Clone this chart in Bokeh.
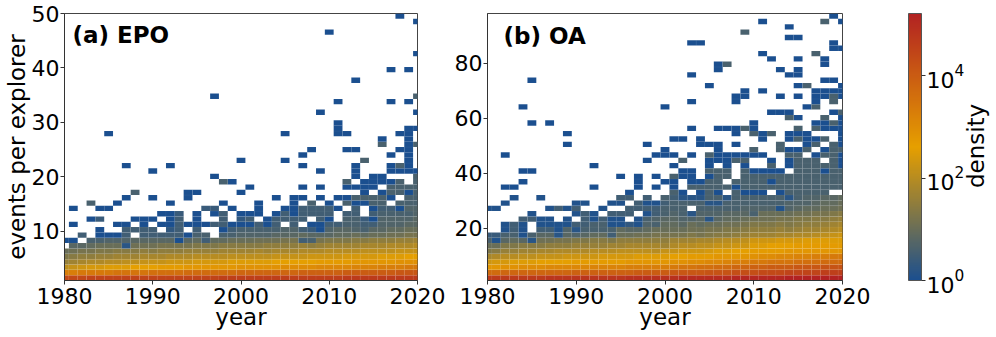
from bokeh.embed import file_html
from bokeh.resources import INLINE
from bokeh.layouts import row
from bokeh.models import (ColorBar, ColumnDataSource, FixedTicker, Label, LogColorMapper,
                          LogTickFormatter, Range1d)
from bokeh.plotting import figure
from bokeh.transform import transform

o = None
years = list(range(1980, 2021))
x_ticks = [1980, 1990, 2000, 2010, 2020]
epo_y_ticks = [10, 20, 30, 40, 50]
oa_y_ticks = [20, 40, 60, 80]
color_ticks = [1, 100, 10000]
ramp = ["#1b4f8f", "#e69f00", "#b22222"]
density_top = 10 ** 5.22
SLATE = 6   # tenths of log10(density) of the darker speckled cells

# Panel (a) EPO. Full rows: tenths of log10(density), one value per year, None = empty.
epo_full_r00 = [44,44,44,45,45,45,45,45,45,45, 45,45,45,45,45,45,45,45,46,46, 46,46,46,46,46,46,46,46,46,46, 46,46,47,47,47,47,47,47,47,47, 47]
epo_full_r01 = [33,33,34,34,34,34,35,35,35,35, 36,36,36,36,37,37,37,37,37,37, 38,38,38,38,38,38,38,39,39,39, 39,39,40,40,40,40,40,40,41,41, 41]
epo_full_r02 = [21,22,23,24,24,25,25,25,26,26, 26,27,27,27,28,28,28,28,28,28, 29,29,29,29,29,30,30,30,30,31, 31,31,31,32,32,32,33,33,33,34, 34]
epo_full_r03 = [16,17,18,19,19,20,20,21,21,22, 22,22,23,23,23,24,24,24,24,25, 25,25,25,25,26,26,26,26,26,27, 27,27,27,28,28,28,28,28,29,29, 29]
epo_full_r04 = [13,14,15,15,16,16,17,17,17,18, 18,18,19,19,19,20,20,20,20,21, 21,21,21,21,22,22,22,22,23,23, 23,23,24,24,24,24,25,25,25,26, 26]
epo_full_r05 = [10,11,12,12,13,13,14,14,14,15, 14,15,15,15,16,16,16,16,17,17, 17,17,18,17,18,18,18,19,19,19, 20,20,20,20,21,21,21,21,22,22, 22]
epo_full_r06 = [o,8,8,9,10,10,10,2,11,11, 11,12,12,12,12,13,13,13,14,14, 14,14,14,15,15,15,15,16,15,16, 17,17,17,17,18,18,18,19,19,19, 20]
epo_full_r07 = [0,0,o,6,6,7,7,7,8,8, 8,8,8,0,8,9,5,9,9,10, 10,10,11,11,11,12,12,5,6,12, 13,13,13,14,14,15,15,15,16,16, 17]
epo_full_r08 = [o,o,5,o,0,0,0,5,o,5, 5,5,5,5,0,6,6,o,6,6, 7,7,7,7,8,8,8,9,8,8, 8,9,9,10,9,10,10,11,11,12, 12]
epo_full_r09 = [o,o,o,o,0,o,o,5,5,5, 5,o,3,5,o,5,o,o,0,5, 6,6,6,6,6,7,7,5,4,0, 7,8,8,7,6,8,8,9,9,10, 10]
epo_full_r10 = [o,0,o,o,o,o,0,0,o,0, o,0,0,5,0,0,0,5,5,0, 0,0,5,0,5,o,5,o,0,0, 5,5,6,6,5,5,7,7,7,8, 8]
epo_full_r11 = [o,o,o,0,4,o,o,o,0,0, 0,o,0,5,o,0,o,o,5,o, 3,5,o,0,5,5,5,5,o,5, 0,o,6,6,4,0,7,7,7,7, 8]
epo_full_r12 = [o,o,o,o,o,o,o,o,o,o, o,0,0,4,o,0,o,0,5,o, 0,0,0,o,0,5,0,5,5,5, 5,o,5,5,o,5,6,6,6,6, 7]
epo_full_r13 = [o,0,o,o,0,0,o,o,o,o, o,o,o,o,o,o,4,4,o,0, o,o,0,o,o,0,0,5,5,5, 5,0,o,5,o,0,5,5,0,7, 7]

# Sparse rows: years with a single event-density cell, and _s = years with a darker cell.
epo_r14 = [1986, 1992, 1998, 2002, 2006, 2010, 2013, 2014]
epo_r14_s = [1983, 2008, 2012, 2015, 2016, 2018, 2019, 2020]
epo_r15 = [1987, 1990, 1994, 2004, 2006, 2007, 2009, 2011, 2012, 2017]
epo_r15_s = [2013, 2014, 2015, 2016, 2019, 2020]
epo_r16 = [1994, 1995, 2000, 2014, 2016, 2019]
epo_r16_s = [1988, 2017, 2018, 2020]
epo_r17 = [2001, 2007, 2009, 2012, 2013, 2014, 2015]
epo_r17_s = [2017, 2018, 2019, 2020]
epo_r18 = [1999, 2014, 2015, 2016, 2017]
epo_r18_s = [1998, 2012, 2018, 2020]
epo_r19 = [1997, 2013, 2015, 2016]
epo_r19_s = [2020]
epo_r20 = [1990, 2009, 2013, 2017, 2018, 2019, 2020]
epo_r21 = [1987, 1992, 2007, 2013, 2017, 2019]
epo_r21_s = [2018]
epo_r22 = [2000, 2005, 2019]
epo_r22_s = [2014]
epo_r23 = [2007, 2017, 2019]
epo_r24 = [2008, 2012, 2013, 2018, 2019]
epo_r25 = [2019]
epo_r25_s = [2016, 2020]
epo_r26 = [2016, 2019]
epo_r27 = [1985, 2005, 2011, 2012, 2018, 2019]
epo_r28 = [2011, 2019, 2020]
epo_r29 = [2011]
epo_r31 = [2009, 2020]
epo_r33 = [2011, 2017, 2019]
epo_r34 = [1997]
epo_r34_s = [2020]
epo_r37 = [2013]
epo_r39 = [2017, 2019]
epo_r42 = [2020]
epo_r46 = [2010]
epo_r48 = [2020]
epo_r49 = [2018]

# Panel (b) OA.
oa_full_r00 = [47,47,47,47,47,47,47,48,48,48, 48,48,48,48,48,48,49,49,49,49, 49,49,50,50,50,50,50,50,51,51, 51,51,51,51,52,52,52,52,52,52, 52]
oa_full_r01 = [37,37,38,38,38,38,38,38,38,38, 39,39,39,39,39,39,39,40,40,40, 40,41,41,41,41,42,42,42,43,43, 43,44,44,44,45,45,45,45,46,46, 46]
oa_full_r02 = [28,28,29,29,30,30,30,31,31,31, 31,31,32,32,32,32,33,33,33,33, 33,34,35,35,36,36,37,37,38,38, 39,39,40,40,40,41,41,41,42,42, 42]
oa_full_r03 = [23,24,24,25,25,25,26,26,26,26, 27,27,27,27,27,27,28,28,28,28, 28,29,29,30,30,31,31,32,33,33, 34,34,35,35,35,36,36,36,37,37, 37]
oa_full_r04 = [18,19,20,20,21,21,22,22,22,23, 23,23,23,24,24,24,24,25,25,25, 25,26,26,27,27,27,28,28,28,28, 29,30,30,31,31,32,32,33,33,34, 34]
oa_full_r05 = [13,14,16,16,17,17,18,18,19,19, 19,19,20,20,20,21,21,21,21,20, 22,22,23,23,23,24,25,25,26,26, 27,27,27,27,28,28,28,28,28,28, 28]
oa_full_r06 = [10,10,13,13,14,14,14,15,15,15, 16,16,16,16,17,17,18,18,18,18, 17,19,20,20,21,21,22,22,23,23, 25,25,26,26,26,27,27,27,27,27, 27]
oa_full_r07 = [6,1,8,9,8,2,11,11,12,12, 13,13,14,14,13,15,15,15,15,15, 15,17,17,17,18,18,19,20,20,21, 23,23,23,24,24,24,25,25,25,25, 25]
oa_full_r08 = [4,4,6,6,1,6,8,8,2,8, 7,8,9,9,5,10,10,11,11,12, 12,12,12,13,12,13,14,14,15,16, 17,17,17,18,18,19,19,20,21,22, 23]
oa_full_r09 = [o,o,1,5,1,o,5,5,1,7, 2,6,6,6,6,9,8,8,9,10, 10,10,10,11,11,12,12,13,13,14, 15,15,15,16,15,16,17,17,18,19, 20]
oa_full_r10 = [o,o,1,5,1,o,1,1,1,1, 5,5,6,6,1,1,3,1,7,6, 9,9,8,10,9,10,10,11,11,12, 13,13,13,14,13,14,15,15,16,17, 18]
oa_full_r11 = [o,o,o,o,5,5,1,1,o,1, o,5,1,5,1,1,o,1,6,7, 8,8,7,7,8,2,8,9,9,10, 11,11,11,12,12,13,13,14,14,15, 16]
oa_full_r12 = [o,o,o,o,o,1,o,o,o,o, 1,5,1,o,5,5,5,o,1,5, 6,7,6,2,7,7,7,8,8,8, 6,10,10,10,10,11,11,12,12,13, 14]
oa_full_r13 = [1,1,o,o,o,o,o,1,5,1, 5,o,o,1,o,o,5,5,5,5, 6,6,6,o,6,6,6,6,6,7, 7,7,7,1,7,8,9,9,10,10, 11]
oa_full_r14 = [o,o,1,o,o,o,o,o,o,o, 1,1,o,o,1,1,o,5,1,1, 5,6,6,6,6,2,2,6,6,6, 6,6,6,6,7,7,7,8,9,9, 10]
oa_full_r15 = [o,o,o,1,o,o,1,o,o,o, o,o,o,o,o,5,5,o,5,o, 6,5,2,2,2,6,6,2,6,6, 6,6,6,6,2,6,7,7,8,8, 9]

oa_r16 = [1996, 2002, 2004, 2006, 2009, 2010, 2011, 2013]
oa_r16_s = [2001, 2005, 2008, 2014, 2015, 2016, 2017, 2018]
oa_r17 = [1982, 1983, 1992, 1997, 1999, 2001, 2008]
oa_r17_s = [2003, 2004, 2005, 2006, 2007, 2009, 2010, 2011, 2012, 2013, 2014, 2015, 2016, 2017, 2018, 2019, 2020]
oa_r18 = [1984, 1997, 2000, 2001, 2003, 2004, 2012]
oa_r18_s = [2005, 2006, 2008, 2009, 2010, 2011, 2013, 2014, 2015, 2016, 2017, 2018, 2019, 2020]
oa_r19 = [1995, 1997, 1999, 2002, 2003, 2005]
oa_r19_s = [2001, 2006, 2007, 2009, 2010, 2011, 2012, 2013, 2014, 2015, 2016, 2017, 2018, 2019, 2020]
oa_r20 = [1984, 1985, 2002, 2003, 2010, 2011, 2012, 2013, 2018]
oa_r20_s = [2005, 2006, 2007, 2009, 2015, 2016, 2017, 2019, 2020]
oa_r21 = [1992, 2001, 2005, 2007, 2009, 2014, 2020]
oa_r21_s = [2012, 2015, 2016, 2017, 2018, 2019]
oa_r22 = [1998, 2005, 2006, 2007, 2012, 2014, 2020]
oa_r22_s = [2002, 2008, 2009, 2015, 2016, 2017, 2019]
oa_r23 = [1982, 1999, 2000, 2001, 2003, 2006, 2007, 2008, 2009, 2010, 2011, 2017, 2020]
oa_r23_s = [2005, 2014, 2015, 2018, 2019]
oa_r24 = [2000, 2006, 2014, 2015, 2018]
oa_r24_s = [2010, 2013, 2016, 2019, 2020]
oa_r25 = [1989, 1998, 2004, 2005, 2006, 2008, 2016, 2020]
oa_r25_s = [2013, 2017, 2019]
oa_r26 = [2001, 2002, 2004, 2011, 2014, 2016, 2017, 2020]
oa_r26_s = [2015, 2018]
oa_r27 = [1989, 2008, 2011, 2014, 2015, 2016, 2020]
oa_r27_s = [2010, 2012]
oa_r28 = [2003, 2006, 2007, 2008, 2010, 2018, 2019, 2020]
oa_r28_s = [2009, 2015, 2017]
oa_r29 = [1985, 1987, 2010, 2017, 2018, 2020]
oa_r29_s = [2019]
oa_r30 = [2015, 2020]
oa_r30_s = [2014, 2018]
oa_r31 = [2012, 2013, 2014, 2019]
oa_r31_s = [2020]
oa_r32 = [1984, 2000, 2016]
oa_r32_s = [2017]
oa_r33 = [2003, 2008, 2017]
oa_r33_s = [2019]
oa_r34 = [2008, 2009, 2013, 2015, 2017, 2018, 2020]
oa_r34_s = [2019]
oa_r35 = [2009, 2011, 2017, 2018, 2019, 2020]
oa_r36 = [2005, 2015, 2020]
oa_r36_s = [2016]
oa_r37 = [1985, 2018, 2019]
oa_r38 = [2003, 2014, 2015]
oa_r39 = [2006, 2013, 2015]
oa_r40 = [2006, 2018]
oa_r40_s = [2007]
oa_r41 = [2012, 2015, 2018]
oa_r42 = [2011]
oa_r42_s = [2017]
oa_r43 = [2019, 2020]
oa_r44 = [2003, 2004, 2019]
oa_r45 = [2014, 2015]
oa_r46_s = [2009]
oa_r47 = [2014]
oa_r48 = [2011, 2020]
oa_r48_s = [2018]
oa_r49 = [2019]

N_ROWS = 50


def hex_rgb(c):
    return tuple(int(c[i:i + 2], 16) for i in (1, 3, 5))


def make_palette(n=256):
    a, b, c = [hex_rgb(k) for k in ramp]
    out = []
    for i in range(n):
        t = i / (n - 1) * 2
        p, q = (a, b) if t <= 1 else (b, c)
        f = t if t <= 1 else t - 1
        out.append("#%02x%02x%02x" % tuple(round(p[k] + (q[k] - p[k]) * f) for k in range(3)))
    return out


mapper = LogColorMapper(palette=make_palette(), low=1, high=density_top)


def cells(prefix, y_low, y_high):
    step = (y_high - y_low) / N_ROWS
    xs, rs, ds = [], [], []
    g = globals()
    for r in range(N_ROWS):
        full = g.get(f"{prefix}_full_r{r:02d}")
        if full is not None:
            assert len(full) == 41, (prefix, r, len(full))
            for y, v in zip(years, full):
                if v is not None:
                    xs.append(y); rs.append(r); ds.append(10 ** (v / 10))
        for y in g.get(f"{prefix}_r{r:02d}", []):
            xs.append(y); rs.append(r); ds.append(1)
        for y in g.get(f"{prefix}_r{r:02d}_s", []):
            xs.append(y); rs.append(r); ds.append(10 ** (SLATE / 10))
    return ColumnDataSource(dict(
        left=[x - .5 for x in xs], right=[x + .5 for x in xs],
        bottom=[y_low + r * step for r in rs], top=[y_low + (r + 1) * step for r in rs],
        density=ds))


FONT = "DejaVu Sans"
SIZE = "22px"
TITLE_SIZE = "23px"


def panel(prefix, y_low, y_high, yticks, width, border_left, border_right, title, title_x, title_y):
    p = figure(width=width, height=337, output_backend="svg", toolbar_location=None,
               x_range=Range1d(1980, 2020), y_range=Range1d(y_low, y_high),
               min_border_left=border_left, min_border_right=border_right,
               min_border_top=13, min_border_bottom=57)
    p.grid.visible = False
    p.quad(left="left", right="right", bottom="bottom", top="top", source=cells(prefix, y_low, y_high),
           fill_color=transform("density", mapper), line_color="white", line_alpha=0.05, line_width=0.7)
    p.xaxis.ticker = FixedTicker(ticks=x_ticks)
    p.yaxis.ticker = FixedTicker(ticks=yticks)
    for ax in (p.xaxis[0], p.yaxis[0]):
        ax.major_label_text_font = FONT
        ax.major_label_text_font_size = SIZE
        ax.major_label_text_color = "black"
        ax.major_tick_out = 4
        ax.major_tick_in = 0
        ax.minor_tick_line_color = None
        ax.major_label_standoff = 3
        ax.axis_line_color = "#333333"
        ax.major_tick_line_color = "#333333"
        ax.axis_label_text_font = FONT
        ax.axis_label_text_font_size = TITLE_SIZE
        ax.axis_label_text_font_style = "normal"
        ax.axis_label_text_color = "black"
        ax.axis_label_standoff = -3
    p.xaxis.axis_label = "year"
    p.yaxis.major_label_standoff = 1
    p.outline_line_color = "#444444"
    p.add_layout(Label(x=title_x, y=title_y, text=title, text_font=FONT, text_font_size=TITLE_SIZE,
                       text_font_style="bold", text_color="black", text_baseline="middle"))
    return p


pa = panel("epo", 1, 50, epo_y_ticks, 447, 63, 30, "(a) EPO", 1980.9, 46)
pb = panel("oa", 1, 98, oa_y_ticks, 433, 40, 38, "(b) OA", 1981.8, 90)
pa.yaxis.axis_label = "events per explorer"
pa.yaxis.axis_label_standoff = -1

pc = figure(width=116, height=337, output_backend="svg", toolbar_location=None,
            x_range=Range1d(0, 1), y_range=Range1d(0, 1), x_axis_location=None, y_axis_location=None,
            min_border=0, outline_line_color=None)
pc.grid.visible = False
bar = ColorBar(color_mapper=mapper, ticker=FixedTicker(ticks=color_ticks), formatter=LogTickFormatter(),
               width=13, height=267, location=(28, 0), padding=0, margin=0,
               major_label_text_font=FONT, major_label_text_font_size=SIZE, major_label_text_color="black",
               major_tick_out=4, major_tick_in=0, major_tick_line_color="#333333",
               minor_tick_line_color=None, bar_line_color="#555555", label_standoff=1,
               background_fill_alpha=0)
pc.add_layout(bar)
pc.add_layout(Label(x=.82, y=.504, text="density", angle=90, angle_units="deg", text_font=FONT,
                    text_font_size=TITLE_SIZE, text_color="black", text_align="center", text_baseline="middle"))

page = row(pa, pb, pc)
open("out.html", "w").write(file_html(page, INLINE))
